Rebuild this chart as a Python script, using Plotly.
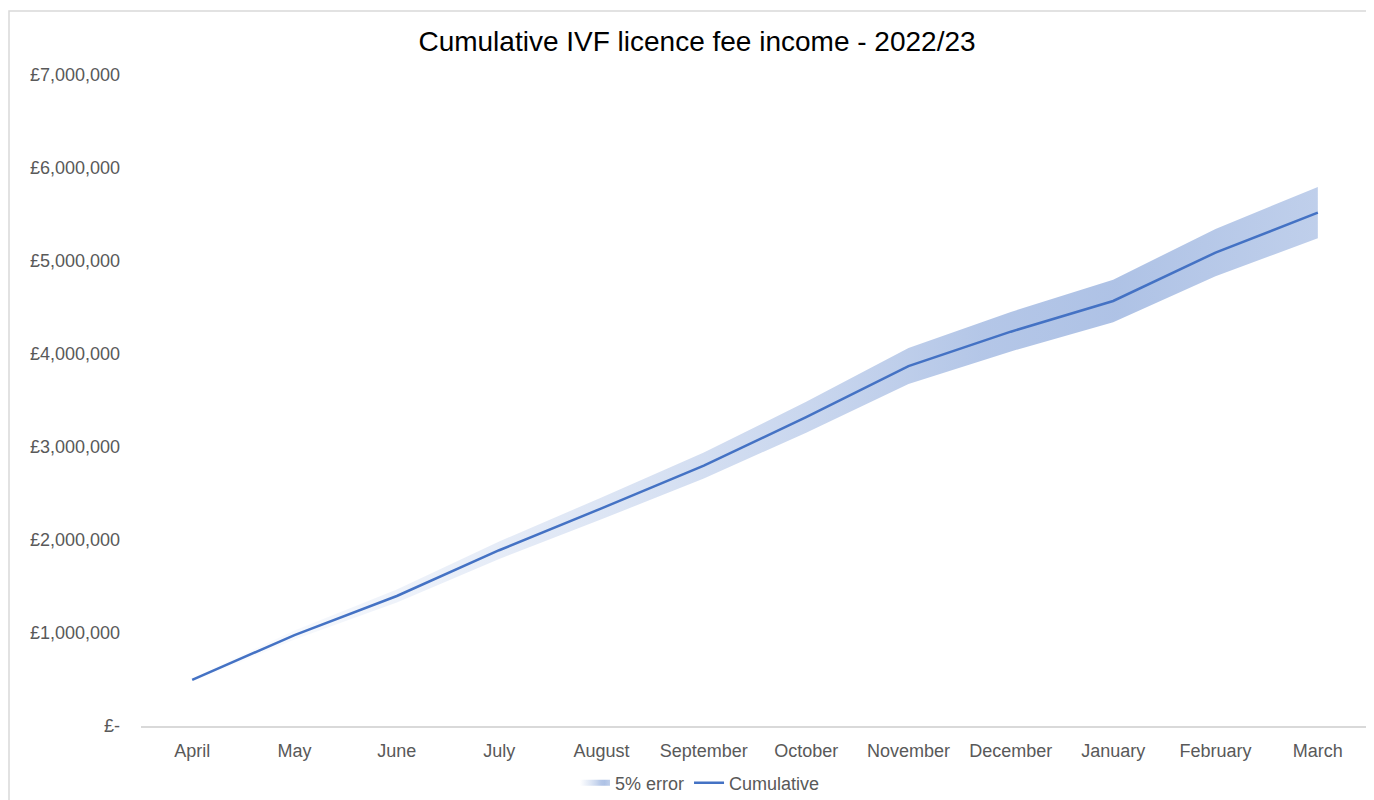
import plotly.graph_objects as go

months = ["April", "May", "June", "July", "August", "September", "October",
          "November", "December", "January", "February", "March"]
cumulative = [495000, 978000, 1398000, 1890000, 2340000, 2800000, 3320000,
              3870000, 4240000, 4570000, 5090000, 5520000]
error_pct = 0.05
y_ticks = [0, 1000000, 2000000, 3000000, 4000000, 5000000, 6000000, 7000000]
y_tick_labels = ["£-", "£1,000,000", "£2,000,000", "£3,000,000", "£4,000,000",
                 "£5,000,000", "£6,000,000", "£7,000,000"]

upper = [v * (1 + error_pct) for v in cumulative]
lower = [v * (1 - error_pct) for v in cumulative]

FONT = "Liberation Sans, Arial, sans-serif"
GREY = "rgb(89,89,89)"
BLUE = "rgb(68,114,196)"

# figure geometry (page has an 8px body margin)
W, H = 1374, 800
PL, PR, PT, PB = 133, 1361, 67, 718   # plot area in figure px
PW, PH = PR - PL, PB - PT

fig = go.Figure()
fig.add_trace(go.Scatter(
    x=months + months[::-1],
    y=upper + lower[::-1],
    fill="toself",
    mode="none",
    name="5% error",
    fillgradient=dict(
        type="horizontal",
        colorscale=[
            [0.0, "rgba(68,114,196,0.0)"],
            [0.18, "rgba(68,114,196,0.09)"],
            [0.36, "rgba(68,114,196,0.18)"],
            [0.55, "rgba(68,114,196,0.29)"],
            [0.70, "rgba(68,114,196,0.40)"],
            [0.82, "rgba(68,114,196,0.43)"],
            [1.0, "rgba(68,114,196,0.34)"],
        ],
    ),
    hoverinfo="skip",
))
fig.add_trace(go.Scatter(
    x=months, y=cumulative, mode="lines", name="Cumulative",
    line=dict(color=BLUE, width=2.5),
))

# outer chart border
fig.add_shape(type="rect", xref="paper", yref="paper",
              x0=(1 - PL) / PW, x1=(1420 - PL) / PW,
              y0=(PB - 840) / PH, y1=(PB - 3) / PH,
              line=dict(color="rgb(217,217,217)", width=1.5),
              fillcolor="rgba(0,0,0,0)", layer="below")

fig.update_layout(
    width=W, height=H,
    margin=dict(l=PL, r=W - PR, t=PT, b=H - PB, pad=0, autoexpand=False),
    paper_bgcolor="white", plot_bgcolor="white",
    font=dict(family=FONT, size=18, color=GREY),
    title=dict(text="Cumulative IVF licence fee income - 2022/23",
               x=689 / W, xanchor="center",
               y=1 - 33 / H, yanchor="middle",
               font=dict(family=FONT, size=28, color="black")),
    showlegend=True,
    legend=dict(orientation="h", x=(692 - PL) / PW, xanchor="center",
                y=(PB - 775) / PH, yanchor="middle",
                font=dict(family=FONT, size=18, color=GREY),
                bgcolor="rgba(0,0,0,0)", tracegroupgap=0),
    xaxis=dict(type="category", range=[-0.5, 11.5], showgrid=False,
               showline=True, linecolor="rgb(217,217,217)", linewidth=1.5,
               ticks="", ticklabelstandoff=8, zeroline=False,
               tickfont=dict(family=FONT, size=18, color=GREY)),
    yaxis=dict(range=[0, 7000000], tickvals=y_ticks, ticktext=y_tick_labels,
               showgrid=False, showline=False, zeroline=False, ticks="",
               ticklabelstandoff=20,
               tickfont=dict(family=FONT, size=18, color=GREY)),
)

fig.write_html("out.html")
